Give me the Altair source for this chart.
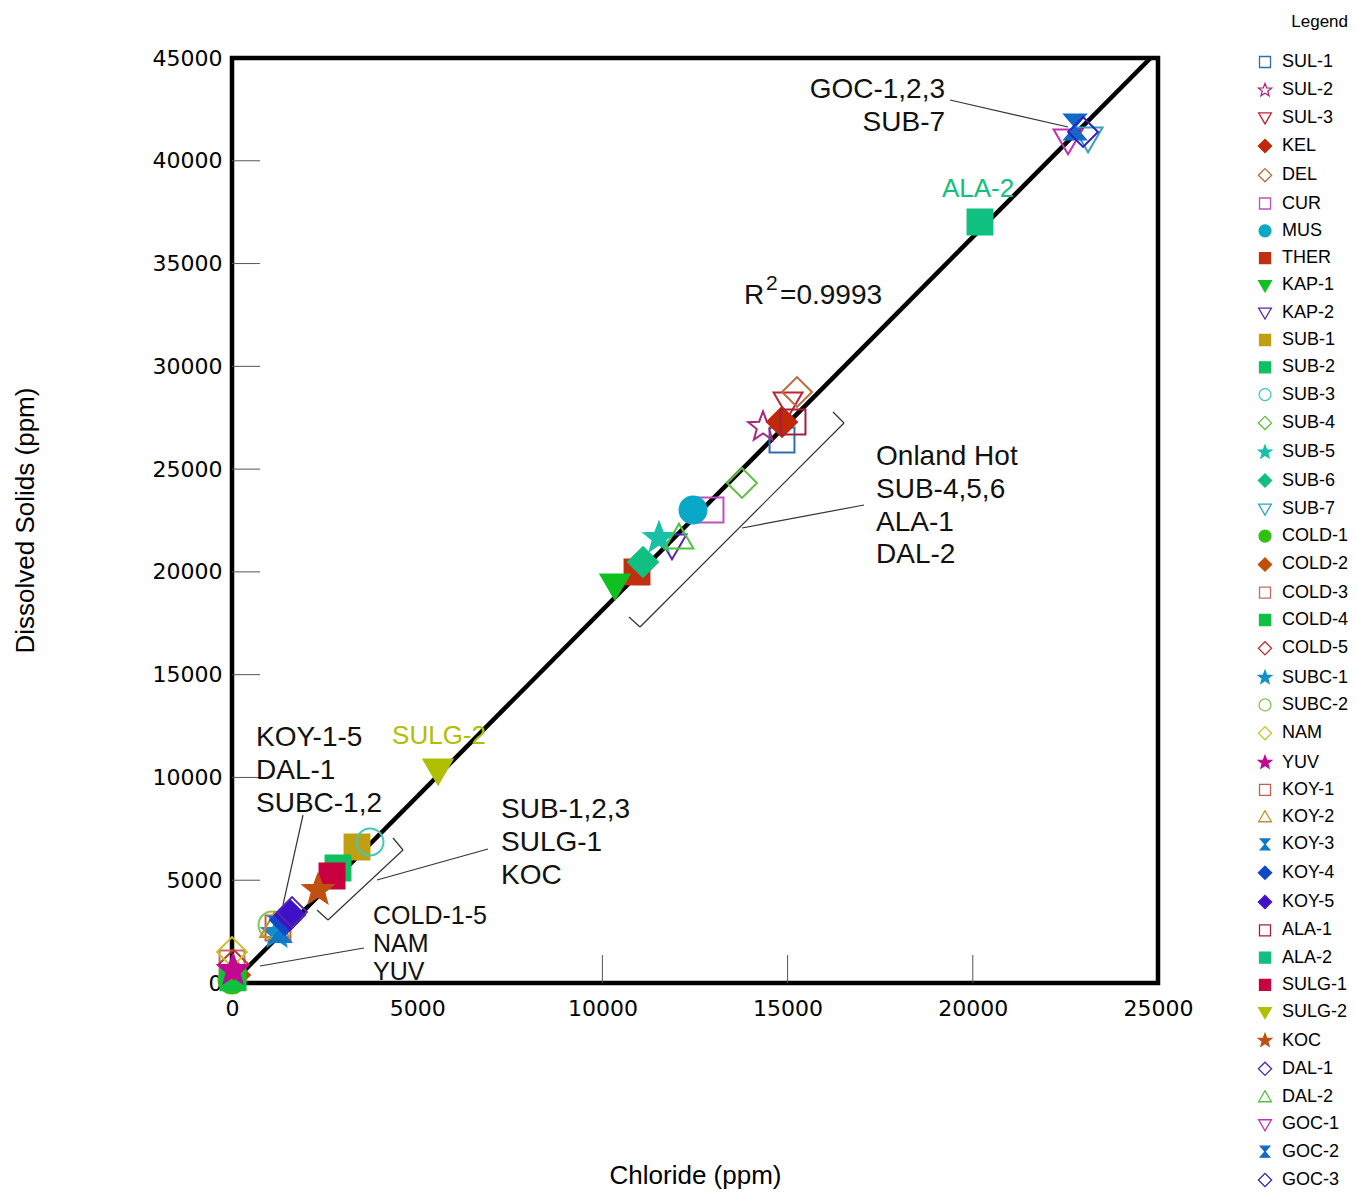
import altair as alt
import pandas as pd

# ---------------- data ----------------
names = ["SUL-1", "SUL-2", "SUL-3", "KEL", "DEL", "CUR", "MUS", "THER", "KAP-1", "KAP-2",
         "SUB-1", "SUB-2", "SUB-3", "SUB-4", "SUB-5", "SUB-6", "SUB-7", "COLD-1", "COLD-2",
         "COLD-3", "COLD-4", "COLD-5", "SUBC-1", "SUBC-2", "NAM", "YUV", "KOY-1", "KOY-2",
         "KOY-3", "KOY-4", "KOY-5", "ALA-1", "ALA-2", "SULG-1", "SULG-2", "KOC", "DAL-1",
         "DAL-2", "GOC-1", "GOC-2", "GOC-3"]
chloride = [14849, 14336, 15011, 14849, 15254, 12932, 12446, 10934, 10340, 11879,
            3375, 2862, 3726, 13769, 11528, 11096, 23112, 0, 80,
            0, 30, 40, 1215, 1080, 0, 27, 1242, 1150,
            1300, 1431, 1566, 15146, 20194, 2700, 5562, 2322, 1620,
            12068, 22572, 22761, 22977]
solids = [26416, 27049, 28216, 27292, 28751, 23011, 23011, 19995, 19362, 21308,
          6616, 5595, 6859, 24324, 21649, 20481, 41108, 146, 390,
          973, 250, 900, 2432, 2822, 1508, 632, 2676, 2750,
          2600, 3065, 3308, 27292, 37022, 5205, 10362, 4524, 3450,
          21649, 41011, 41644, 41400]
shape_kind = ["square", "star", "tdown", "diamond", "diamond", "square", "circle", "square", "tdown", "tdown",
              "square", "square", "circle", "diamond", "star", "diamond", "tdown", "circle", "diamond",
              "square", "square", "diamond", "star", "circle", "diamond", "star", "square", "tup",
              "hour", "diamond", "diamond", "square", "square", "square", "tdown", "star", "diamond",
              "tup", "tdown", "hour", "diamond"]
colors = ["#2f6fb0", "#a8287e", "#b82830", "#c02808", "#c06a3a", "#c050c0", "#0aa8c8", "#c03010", "#10c020", "#5828b0",
          "#c0a010", "#10c060", "#40c8c0", "#60c040", "#18c0a8", "#10c080", "#30a0c8", "#30c010", "#c05008",
          "#c07060", "#10c040", "#c03030", "#1090c8", "#80c850", "#d0c030", "#c00890", "#c06050", "#c09030",
          "#1078c8", "#1048c8", "#4010c8", "#a02040", "#10c080", "#c80040", "#b0c000", "#c05010", "#5028b0",
          "#50c040", "#c030b0", "#1068c8", "#3020c0"]
filled = [False, False, False, True, False, False, True, True, True, False,
          True, True, False, False, True, True, False, True, True,
          False, True, False, True, False, False, True, False, False,
          True, True, True, False, True, True, True, True, False,
          False, False, True, False]

# regression line end points
fit_x = [0, 24800]
fit_y = [0, 45000]

# annotation leader lines and brackets (data units)
seg_x = [19384, 17063, 16226, 16523, 11015, 1917, 6911, 4347, 4617, 2592, 3564]
seg_y = [42957, 23254, 27779, 27243, 17319, 8173, 6519, 7054, 6470, 3065, 1703]
seg_x2 = [22570, 13769, 16523, 11015, 10718, 1377, 3915, 4617, 2592, 2295, 756]
seg_y2 = [41643, 22135, 27243, 17319, 17805, 3795, 5011, 6470, 3065, 3551, 827]

# inner tick marks
ytick_vals = [5000, 10000, 15000, 20000, 25000, 30000, 35000, 40000]
xtick_vals = [10000, 15000, 20000]

# left aligned annotation texts
lt_text = ["Onland Hot", "SUB-4,5,6", "ALA-1", "DAL-2",
           "KOY-1-5", "DAL-1", "SUBC-1,2",
           "SUB-1,2,3", "SULG-1", "KOC",
           "COLD-1-5", "NAM", "YUV",
           "R", "2", "=0.9993"]
lt_x = [17388, 17388, 17388, 17388,
        648, 648, 648,
        7263, 7263, 7263,
        3807, 3807, 3807,
        13824, 14418, 14796]
lt_y = [25200, 23595, 21989, 20433,
        11530, 9924, 8319,
        8027, 6422, 4816,
        2870, 1508, 146,
        33033, 33714, 33033]
lt_size = [28, 28, 28, 28,
           28, 28, 28,
           28, 28, 28,
           25, 25, 25,
           28, 21, 28]

# right aligned annotation texts
rt_text = ["GOC-1,2,3", "SUB-7"]
rt_x = [19251, 19251]
rt_y = [43054, 41449]

# centred coloured labels
ct_text = ["ALA-2", "SULG-2"]
ct_x = [20142, 5589]
ct_y = [38238, 11627]
ct_color = ["#10c080", "#b0c000"]

# ---------------- shapes ----------------
STAR = ("M0,-1.25L0.309,-0.425L1.189,-0.386L0.499,0.162L0.735,1.011L0,0.525"
        "L-0.735,1.011L-0.499,0.162L-1.189,-0.386L-0.309,-0.425Z")
HOUR = "M-0.85,-1L0.85,-1L-0.85,1L0.85,1Z"
DIAM = "M-1.2,0L0,-1.2L1.2,0L0,1.2Z"
TDOWN = "M-1.16,-0.85L1.16,-0.85L0,1.15Z"
TUP = "M-1.16,0.85L1.16,0.85L0,-1.15Z"
CIRC = "M1.08,0A1.08,1.08,0,1,1,-1.08,0A1.08,1.08,0,1,1,1.08,0Z"
shape_map = {"square": "square", "circle": CIRC, "diamond": DIAM, "star": STAR,
             "tdown": TDOWN, "tup": TUP, "hour": HOUR}
shape_range = [shape_map[s] for s in shape_kind]
fill_range = [c if f else "transparent" for c, f in zip(colors, filled)]

FONT = "Liberation Sans"

pts = pd.DataFrame({"name": names, "x": chloride, "y": solids})
fit = pd.DataFrame({"x": fit_x, "y": fit_y})
segs = pd.DataFrame({"x": seg_x, "y": seg_y, "x2": seg_x2, "y2": seg_y2})
ticks = pd.DataFrame(
    {"x": [0] * len(ytick_vals) + xtick_vals,
     "y": ytick_vals + [0] * len(xtick_vals),
     "x2": [756] * len(ytick_vals) + xtick_vals,
     "y2": ytick_vals + [1362] * len(xtick_vals)})
lt = pd.DataFrame({"t": lt_text, "x": lt_x, "y": lt_y, "fs": lt_size})
rt = pd.DataFrame({"t": rt_text, "x": rt_x, "y": rt_y})
ct = pd.DataFrame({"t": ct_text, "x": ct_x, "y": ct_y, "c": ct_color})

xscale = alt.Scale(domain=[0, 25000], nice=False, zero=False)
yscale = alt.Scale(domain=[0, 45000], nice=False, zero=False)

xaxis = alt.Axis(values=[0, 5000, 10000, 15000, 20000, 25000], format="d", ticks=False,
                 domain=False, grid=False, labelFont="DejaVu Sans", labelFontSize=22,
                 labelColor="black", labelPadding=15, labelFlush=False, labelOverlap=False,
                 title="Chloride (ppm)", titleFont=FONT, titleFontSize=26,
                 titleFontWeight="normal", titleColor="black",
                 titleX=463, titleY=192, titleAlign="center", titleBaseline="middle")
yaxis = alt.Axis(values=[0, 5000, 10000, 15000, 20000, 25000, 30000, 35000, 40000, 45000],
                 format="d", ticks=False, domain=False, grid=False,
                 labelFont="DejaVu Sans", labelFontSize=22, labelColor="black",
                 labelPadding=10, labelFlush=False, labelOverlap=False,
                 title="Dissolved Solids (ppm)", titleFont=FONT, titleFontSize=26,
                 titleFontWeight="normal", titleColor="black", titleAngle=270,
                 titleX=-207, titleY=462, titleAlign="center", titleBaseline="middle")

legend = alt.Legend(title="Legend", orient="none", legendX=1024, legendY=-44,
                    direction="vertical", columns=1, symbolSize=121, symbolStrokeWidth=1.3,
                    symbolLimit=100, labelLimit=200,
                    labelFont=FONT, labelFontSize=18, labelColor="black", labelOffset=8,
                    titleFont=FONT, titleFontSize=17, titleFontWeight="normal",
                    titleColor="black", titleAnchor="end", titlePadding=22, rowPadding=9.3,
                    padding=0)

xaxis_enc = alt.X("x:Q", scale=xscale, axis=xaxis)
yaxis_enc = alt.Y("y:Q", scale=yscale, axis=yaxis)

tick_layer = alt.Chart(ticks).mark_rule(color="#555555", strokeWidth=1).encode(
    x=xaxis_enc, y=yaxis_enc, x2="x2:Q", y2="y2:Q")

seg_layer = alt.Chart(segs).mark_rule(color="#333333", strokeWidth=1.2).encode(
    x=alt.X("x:Q", scale=xscale), y=alt.Y("y:Q", scale=yscale), x2="x2:Q", y2="y2:Q")

line_layer = alt.Chart(fit).mark_line(color="black", strokeWidth=4.5, clip=True).encode(
    x=alt.X("x:Q", scale=xscale), y=alt.Y("y:Q", scale=yscale))

point_layer = alt.Chart(pts).mark_point(size=620, strokeWidth=2, opacity=1).encode(
    x=alt.X("x:Q", scale=xscale),
    y=alt.Y("y:Q", scale=yscale),
    shape=alt.Shape("name:N", sort=names, scale=alt.Scale(domain=names, range=shape_range), legend=legend),
    fill=alt.Fill("name:N", sort=names, scale=alt.Scale(domain=names, range=fill_range), legend=legend),
    stroke=alt.Stroke("name:N", sort=names, scale=alt.Scale(domain=names, range=colors), legend=legend),
    order=alt.Order("idx:Q"),
).transform_calculate(idx="indexof(" + str(names).replace("'", '"') + ", datum.name)")

lt_layer = alt.Chart(lt).mark_text(align="left", baseline="alphabetic", font=FONT, color="#111111").encode(
    x=alt.X("x:Q", scale=xscale), y=alt.Y("y:Q", scale=yscale), text="t:N",
    size=alt.Size("fs:Q", scale=None, legend=None))

rt_layer = alt.Chart(rt).mark_text(align="right", baseline="alphabetic", font=FONT, fontSize=28,
                                   color="#111111").encode(
    x=alt.X("x:Q", scale=xscale), y=alt.Y("y:Q", scale=yscale), text="t:N")

ct_layer = alt.Chart(ct).mark_text(align="center", baseline="alphabetic", font=FONT, fontSize=26).encode(
    x=alt.X("x:Q", scale=xscale), y=alt.Y("y:Q", scale=yscale), text="t:N",
    color=alt.Color("c:N", scale=None, legend=None))

chart = alt.layer(tick_layer, seg_layer, line_layer, point_layer, lt_layer, rt_layer, ct_layer).properties(
    width=926, height=925,
    padding={"left": 224, "top": 50, "right": 191, "bottom": 209},
    autosize=alt.AutoSizeParams(type="none"),
    background="white",
).configure_view(stroke="black", strokeWidth=4.5)

chart.save("out.html", embed_options={"renderer": "svg", "actions": False})
